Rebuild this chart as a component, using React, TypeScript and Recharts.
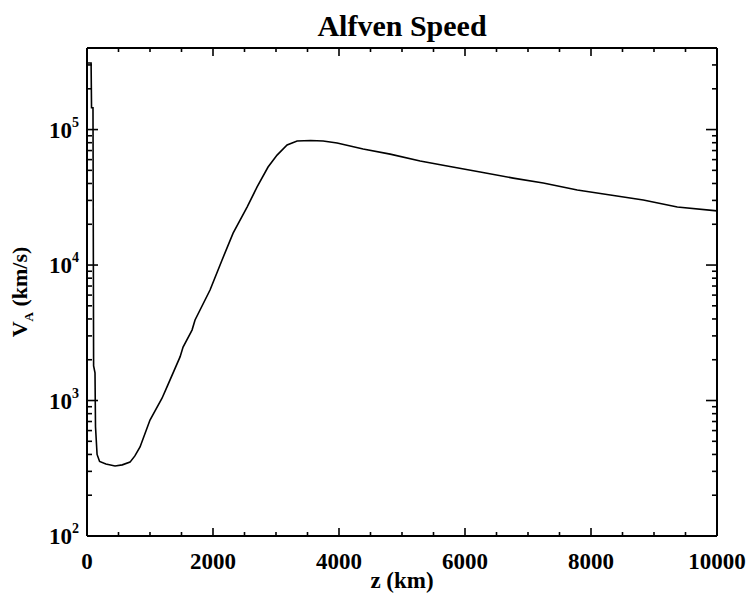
import { LineChart, Line, XAxis, YAxis } from 'recharts';

// height above the photosphere (km) and Alfven speed (km/s)
const zKm = [
  0, 65, 72, 95, 105, 127, 135, 160, 200, 300, 445, 560, 683, 760, 842, 1000,
  1191, 1270, 1477, 1525, 1667, 1715, 1953, 2144, 2319, 2541, 2700, 2874, 3017,
  3176, 3335, 3550, 3748, 3970, 4383, 4812, 5288, 5717, 6241, 6765, 7242, 7782,
  8306, 8830, 9370, 10000,
];
const vAlfven = [
  310000, 310000, 145000, 145000, 1800, 1600, 640, 400, 355, 340, 329, 335, 351,
  390, 454, 718, 1040, 1260, 2100, 2480, 3310, 3930, 6540, 10900, 17200, 26800,
  37700, 52900, 64800, 76900, 82300, 83000, 82300, 79500, 71800, 65900, 58600,
  53800, 48600, 43800, 40300, 35800, 32900, 30200, 26800, 25100,
];

const xTicks = [
  0, 500, 1000, 1500, 2000, 2500, 3000, 3500, 4000, 4500, 5000, 5500, 6000,
  6500, 7000, 7500, 8000, 8500, 9000, 9500, 10000,
];
const xLabelled = [0, 2000, 4000, 6000, 8000, 10000];
const decades = [100, 1000, 10000, 100000];
const yTicks = [
  100, 200, 300, 400, 500, 600, 700, 800, 900,
  1000, 2000, 3000, 4000, 5000, 6000, 7000, 8000, 9000,
  10000, 20000, 30000, 40000, 50000, 60000, 70000, 80000, 90000,
  100000, 200000, 300000, 400000,
];

const data = zKm.map((z, i) => ({ z, v: vAlfven[i] }));

const FONT = '"Liberation Serif", "DejaVu Serif", serif';

// tick marks point into the plot, like the IDL box frame
const XMark = (dir: number) => (props: any) => {
  const { x, y, payload } = props;
  const len = xLabelled.includes(payload.value) ? 8 : 4;
  return (
    <g>
      <path d={`M${x},${y}L${x},${y + dir * len}`} stroke="#000" strokeWidth={1.6} />
    </g>
  );
};

const YMark = (dir: number) => (props: any) => {
  const { x, y, payload } = props;
  const len = decades.includes(payload.value) ? 11 : 5;
  return (
    <g>
      <path d={`M${x},${y}L${x + dir * len},${y}`} stroke="#000" strokeWidth={1.6} />
    </g>
  );
};

const BottomMark = XMark(-1);
const TopMark = XMark(1);
const LeftMark = YMark(1);
const RightMark = YMark(-1);

const XLabel = (props: any) => {
  const { x, y, payload } = props;
  return (
    <text x={x} y={y + 32} textAnchor="middle" fontFamily={FONT} fontWeight="bold" fontSize={23} fill="#000">
      {payload.value}
    </text>
  );
};

const YLabel = (props: any) => {
  const { x, y, payload } = props;
  const exp = Math.round(Math.log10(payload.value));
  return (
    <text x={x - 7} y={y + 8} textAnchor="end" fontFamily={FONT} fontWeight="bold" fontSize={23} fill="#000">
      <tspan>10</tspan>
      <tspan dy={-11} fontSize={14}>{exp}</tspan>
    </text>
  );
};

const frame = { stroke: '#000', strokeWidth: 2 };

export default function App() {
  return (
    <div style={{ position: 'absolute', left: 0, top: 0, width: 749, height: 603 }}>
      <LineChart width={749} height={603} data={data} margin={{ top: 47, right: 31, bottom: 0, left: 0 }}>
        {/* default-id axes sit next to the plot: they carry the frame ticks */}
        <XAxis dataKey="z" type="number" domain={[0, 10000]} ticks={xTicks} interval={0}
          height={1} tickSize={0} tickMargin={0} tickLine={false} tick={<BottomMark />} axisLine={frame} />
        <XAxis xAxisId="xl" dataKey="z" type="number" domain={[0, 10000]} ticks={xLabelled} interval={0}
          height={66} tickSize={0} tickMargin={0} tickLine={false} tick={<XLabel />} axisLine={false} />
        <XAxis xAxisId="top" orientation="top" dataKey="z" type="number" domain={[0, 10000]} ticks={xTicks} interval={0}
          height={1} tickSize={0} tickMargin={0} tickLine={false} tick={<TopMark />} axisLine={frame} />
        <YAxis dataKey="v" scale="log" type="number" domain={[100, 400000]} ticks={yTicks} interval={0}
          width={1} tickSize={0} tickMargin={0} tickLine={false} tick={<LeftMark />} axisLine={frame} />
        <YAxis yAxisId="yl" dataKey="v" scale="log" type="number" domain={[100, 400000]} ticks={decades} interval={0}
          width={86} tickSize={0} tickMargin={0} tickLine={false} tick={<YLabel />} axisLine={false} />
        <YAxis yAxisId="right" orientation="right" dataKey="v" scale="log" type="number" domain={[100, 400000]} ticks={yTicks} interval={0}
          width={1} tickSize={0} tickMargin={0} tickLine={false} tick={<RightMark />} axisLine={frame} />
        <Line type="linear" dataKey="v" stroke="#000" strokeWidth={1.6} dot={false} isAnimationActive={false} />
        <Line xAxisId="top" yAxisId="right" type="linear" dataKey="v" stroke="none" dot={false} activeDot={false} isAnimationActive={false} />
        <Line xAxisId="xl" yAxisId="yl" type="linear" dataKey="v" stroke="none" dot={false} activeDot={false} isAnimationActive={false} />
      </LineChart>
      <div
        style={{
          position: 'absolute',
          left: 87,
          width: 630,
          top: 8,
          textAlign: 'center',
          fontFamily: FONT,
          fontWeight: 'bold',
          fontSize: 30,
          lineHeight: '36px',
        }}
      >
        Alfven Speed
      </div>
      <div
        style={{
          position: 'absolute',
          left: 87,
          width: 630,
          top: 566,
          textAlign: 'center',
          fontFamily: FONT,
          fontWeight: 'bold',
          fontSize: 23,
          lineHeight: '30px',
        }}
      >
        z (km)
      </div>
      <div
        style={{
          position: 'absolute',
          left: 22,
          top: 292,
          transform: 'translate(-50%, -50%) rotate(-90deg)',
          whiteSpace: 'nowrap',
          fontFamily: FONT,
          fontWeight: 'bold',
          fontSize: 22,
        }}
      >
        V<sub style={{ fontSize: 13 }}>A</sub> (km/s)
      </div>
    </div>
  );
}
